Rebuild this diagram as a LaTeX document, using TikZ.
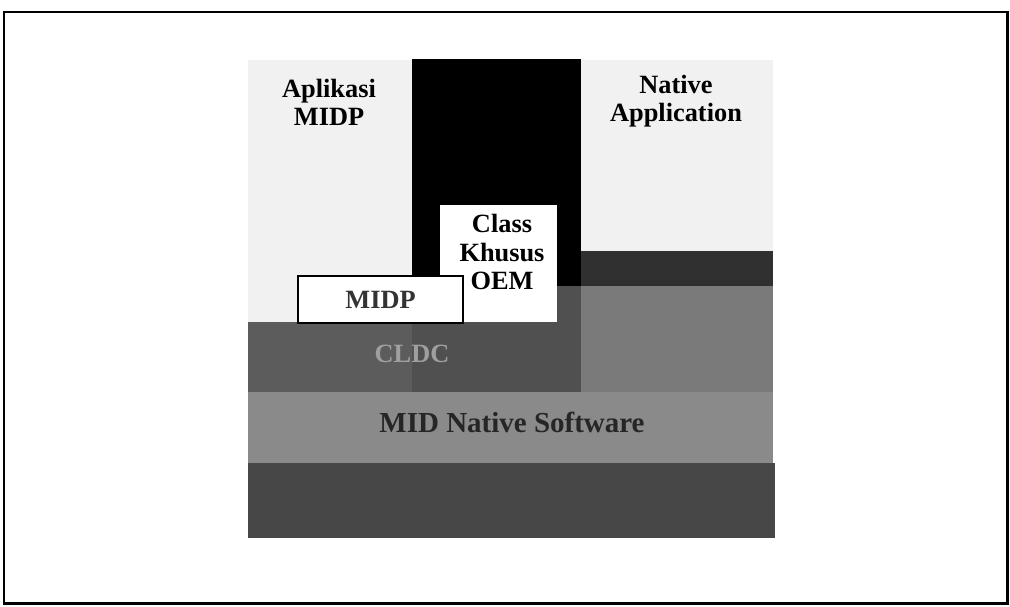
\documentclass[tikz,border=0pt]{standalone}
\usepackage{fontspec}
\setmainfont{Liberation Serif}
\usepackage{tikz}
\usetikzlibrary{positioning}
\definecolor{appbg}{HTML}{F1F1F1}
\definecolor{cldcgray}{HTML}{5C5C5C}
\definecolor{colgray}{HTML}{505050}
\definecolor{nativegray}{HTML}{8A8A8A}
\definecolor{bandgray}{HTML}{303030}
\definecolor{rightgray}{HTML}{7A7A7A}
\definecolor{basegray}{HTML}{474747}

\begin{document}
\begin{tikzpicture}[x=0.02cm, y=-0.02cm,
    lbl/.style={font=\fontsize{15}{16}\selectfont\bfseries, align=center, inner sep=0pt},
    whitebox/.style={rectangle, fill=white, inner sep=0pt, anchor=north west},
    frame/.style={draw=black, line width=1.7pt}
]
\useasboundingbox (0,0) rectangle (1010,606);
\draw[frame] (4,12) rectangle (1007,603);

% application area and layers
\fill[appbg] (248,60) rectangle (773,322);
\fill[black] (412,59) rectangle (581,286);
\fill[colgray] (412,286) rectangle (581,392);
\fill[bandgray] (581,251) rectangle (773,286);
\fill[rightgray] (581,286) rectangle (773,392);
\fill[cldcgray] (248,322) rectangle (412,392);
\fill[nativegray] (248,392) rectangle (773,463);
\fill[basegray] (248,463) rectangle (775,538);

% boxes
\node[whitebox, minimum width=2.34cm, minimum height=2.34cm] (oem) at (440,205) {};
\node[whitebox, draw=black, line width=1.2pt, minimum width=3.3cm, minimum height=0.94cm]
    (midpbox) at (297,275) {};

% labels
\node[lbl] (aplikasi) at (329,102) {Aplikasi\\MIDP};
\node[lbl] (nativeapp) at (676,101) {Native\\Application};
\node[lbl, text=black!80] (midp) at (midpbox.center) {MIDP};
\node[lbl] (oemtext) at (502,252) {Class\\Khusus\\OEM};
\node[lbl, text=gray!75] (cldc) at (412,354) {CLDC};
\node[lbl, font=\fontsize{16.5}{18}\selectfont\bfseries, text=black!85] (mid) at (512,422) {MID Native Software};
\end{tikzpicture}
\end{document}
